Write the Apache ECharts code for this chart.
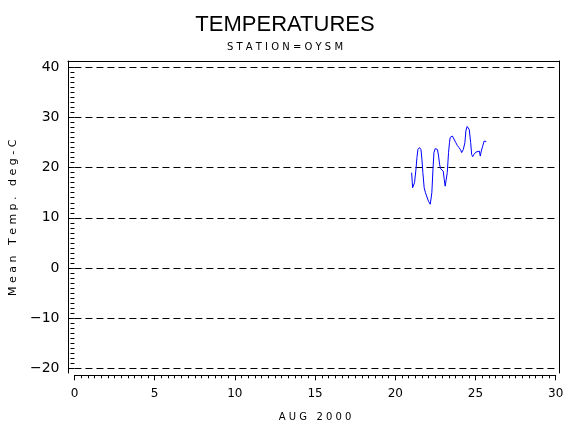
<!DOCTYPE html>
<html>
<head>
<meta charset="utf-8">
<script src="https://cdn.jsdelivr.net/npm/echarts@6/dist/echarts.min.js"></script>
<style>
  html, body { margin: 0; padding: 0; background: #fff; }
  #chart { width: 570px; height: 430px; }
</style>
</head>
<body>
<div id="chart"></div>
<script>
// Aug 2000, day of month (fractional) and mean temperature (deg C)
var days = [21.02, 21.08, 21.14, 21.20, 21.29, 21.35, 21.41, 21.51, 21.60, 21.66,
            21.72, 21.80, 21.88, 21.97, 22.07, 22.18, 22.24, 22.28, 22.35, 22.41,
            22.49, 22.63, 22.70, 22.76, 22.82, 22.91, 22.99, 23.05, 23.11, 23.17,
            23.24, 23.32, 23.38, 23.42, 23.56, 23.68, 23.77, 23.87, 23.97, 24.08,
            24.14, 24.24, 24.34, 24.40, 24.48, 24.55, 24.61, 24.70, 24.76, 24.83,
            24.89, 24.95, 25.03, 25.14, 25.24, 25.30, 25.36, 25.45, 25.54, 25.63,
            25.67];
var temps = [19.0, 16.0, 15.7, 17.0, 19.7, 22.0, 23.6, 24.0, 23.6, 21.7,
             19.0, 16.0, 15.0, 14.7, 13.3, 12.7, 13.0, 15.0, 19.7, 23.0,
             23.8, 23.6, 22.3, 20.7, 19.8, 19.7, 19.3, 17.7, 16.3, 16.0,
             19.0, 23.0, 25.0, 26.0, 26.3, 26.2, 25.0, 24.4, 24.0, 23.5,
             23.0, 23.6, 25.0, 27.3, 28.2, 28.3, 27.6, 25.0, 22.6, 22.2,
             22.6, 22.8, 23.1, 23.2, 23.3, 22.3, 23.3, 24.3, 25.3, 25.5,
             25.2];
var xTicks = [0, 30, 5];      // min, max, step
var yTicks = [-20, 40, 10];

function spaced(s) { return s.split('').join(' '); }

var chart = echarts.init(document.getElementById('chart'));
var font = 'DejaVu Sans';
var points = days.map(function (d, i) { return [d, temps[i]]; });

var option = {
    animation: false,
    backgroundColor: '#fff',
    title: [
        { text: 'TEMPERATURES', left: 'center', top: 9,
          textStyle: { fontFamily: 'Liberation Sans', fontSize: 22, fontWeight: 'normal', color: '#000' } },
        { text: spaced('STATION=OYSM'), left: 'center', top: 37,
          textStyle: { fontFamily: font, fontSize: 10, fontWeight: 'normal', color: '#000' } }
    ],
    grid: [
        // frame
        { left: 68, right: 11, top: 61, bottom: 57 },
        // data area
        { left: 73, right: 14.3, top: 67.3, bottom: 61.7 }
    ],
    xAxis: [
        { gridIndex: 0, type: 'value', position: 'top', min: 0, max: 1,
          axisLine: { show: true, onZero: false, lineStyle: { color: '#000', width: 1 } },
          axisTick: { show: false }, axisLabel: { show: false }, splitLine: { show: false } },
        { gridIndex: 1, type: 'value', position: 'bottom', offset: 7,
          min: xTicks[0], max: xTicks[1], interval: xTicks[2],
          name: spaced('AUG 2000'), nameLocation: 'middle', nameGap: 37,
          nameTextStyle: { fontFamily: font, fontSize: 10, color: '#000' },
          axisLine: { show: true, onZero: false, lineStyle: { color: '#000', width: 1 } },
          axisTick: { show: true, length: 5, lineStyle: { color: '#000' } },
          minorTick: { show: true, splitNumber: 12, length: 3, lineStyle: { color: '#000' } },
          axisLabel: { fontFamily: font, fontSize: 12, color: '#000', margin: 13 },
          splitLine: { show: false } }
    ],
    yAxis: [
        { gridIndex: 0, type: 'value', position: 'left', min: 0, max: 1,
          axisLine: { show: true, onZero: false, lineStyle: { color: '#000', width: 1 } },
          axisTick: { show: false }, axisLabel: { show: false }, splitLine: { show: false } },
        { gridIndex: 0, type: 'value', position: 'right', min: 0, max: 1,
          axisLine: { show: true, onZero: false, lineStyle: { color: '#000', width: 1 } },
          axisTick: { show: false }, axisLabel: { show: false }, splitLine: { show: false } },
        { gridIndex: 1, type: 'value', position: 'left', offset: 5,
          min: yTicks[0], max: yTicks[1], interval: yTicks[2],
          name: spaced('Mean Temp. deg-C'), nameLocation: 'middle', nameGap: 45, nameRotate: 90,
          nameTextStyle: { fontFamily: font, fontSize: 11, color: '#000' },
          axisLine: { show: false },
          axisTick: { show: true, length: 6, lineStyle: { color: '#000' } },
          minorTick: { show: true, splitNumber: 10, length: 4, lineStyle: { color: '#000' } },
          axisLabel: { fontFamily: font, fontSize: 14, color: '#000', margin: 10,
                       formatter: function (v) { return String(v).replace('-', '\u2212'); } },
          splitLine: { show: true, lineStyle: { color: '#000', width: 1, type: [7, 4] } } }
    ],
    series: [
        {
            type: 'line',
            xAxisIndex: 1,
            yAxisIndex: 2,
            data: points,
            showSymbol: false,
            symbol: 'none',
            lineStyle: { color: '#0000ff', width: 1 }
        }
    ]
};
chart.setOption(option);
</script>
</body>
</html>
